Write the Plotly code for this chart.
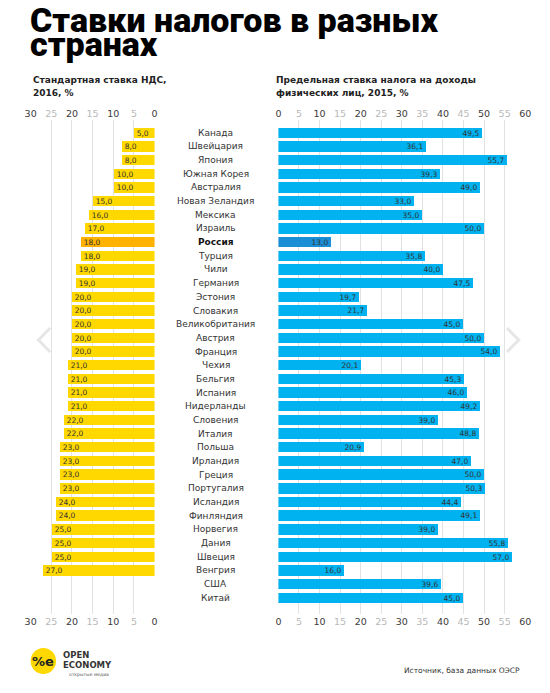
import plotly.graph_objects as go

countries = ["Канада", "Швейцария", "Япония", "Южная Корея", "Австралия", "Новая Зеландия",
             "Мексика", "Израиль", "Россия", "Турция", "Чили", "Германия", "Эстония",
             "Словакия", "Великобритания", "Австрия", "Франция", "Чехия", "Бельгия",
             "Испания", "Нидерланды", "Словения", "Италия", "Польша", "Ирландия", "Греция",
             "Португалия", "Исландия", "Финляндия", "Норвегия", "Дания", "Швеция", "Венгрия",
             "США", "Китай"]
vat = [5.0, 8.0, 8.0, 10.0, 10.0, 15.0, 16.0, 17.0, 18.0, 18.0, 19.0, 19.0, 20.0,
       20.0, 20.0, 20.0, 20.0, 21.0, 21.0, 21.0, 21.0, 22.0, 22.0, 23.0, 23.0, 23.0,
       23.0, 24.0, 24.0, 25.0, 25.0, 25.0, 27.0, None, None]
pit = [49.5, 36.1, 55.7, 39.3, 49.0, 33.0, 35.0, 50.0, 13.0, 35.8, 40.0, 47.5, 19.7,
       21.7, 45.0, 50.0, 54.0, 20.1, 45.3, 46.0, 49.2, 39.0, 48.8, 20.9, 47.0, 50.0,
       50.3, 44.4, 49.1, 39.0, 55.8, 57.0, 16.0, 39.6, 45.0]
highlight = "Россия"
vat_ticks = [0, 5, 10, 15, 20, 25, 30]
pit_ticks = [0, 5, 10, 15, 20, 25, 30, 35, 40, 45, 50, 55, 60]

title_lines = ["Ставки налогов в разных", "странах"]
left_sub = ["Стандартная ставка НДС,", "2016, %"]
right_sub = ["Предельная ставка налога на доходы", "физических лиц, 2015, %"]
source = "Источник, база данных ОЭСР"

W, H = 550, 693
OFF = 8  # page body margin in the browser


def px(x):
    return (x - OFF) / W


def py(y):
    return 1 - (y - OFF) / H


def fmt(v):
    return "" if v is None else f"{v:.1f}".replace(".", ",")


def tick_text(vals):
    out = []
    for v in vals:
        c = "#3a3a3a" if v % 10 == 0 else "#b8b8b8"
        out.append(f'<span style="color:{c}">{v}</span>')
    return out


idx = list(range(len(countries)))
vat_colors = ["#FFB300" if c == highlight else "#FFD800" for c in countries]
pit_colors = ["#1C8ED6" if c == highlight else "#00B2EF" for c in countries]

fig = go.Figure()
fig.add_trace(go.Bar(
    x=vat, y=idx, orientation="h", xaxis="x", yaxis="y",
    marker=dict(color=vat_colors, line=dict(width=0)), width=0.76,
    text=[fmt(v) for v in vat], textposition="inside", insidetextanchor="end",
    textfont=dict(size=7.5, color="#333333", family="DejaVu Sans"),
    constraintext="none", hoverinfo="skip", showlegend=False))
fig.add_trace(go.Bar(
    x=pit, y=idx, orientation="h", xaxis="x2", yaxis="y",
    marker=dict(color=pit_colors, line=dict(width=0)), width=0.76,
    text=[fmt(v) for v in pit], textposition="inside", insidetextanchor="end",
    textfont=dict(size=7.5, color="#333333", family="DejaVu Sans"),
    constraintext="none", hoverinfo="skip", showlegend=False))
# invisible helpers so the top tick axes are drawn
fig.add_trace(go.Scatter(x=[0], y=[0], xaxis="x3", yaxis="y", mode="markers",
                         marker=dict(opacity=0), hoverinfo="skip", showlegend=False))
fig.add_trace(go.Scatter(x=[0], y=[0], xaxis="x4", yaxis="y", mode="markers",
                         marker=dict(opacity=0), hoverinfo="skip", showlegend=False))

left_dom = [px(25), px(151.7)]
right_dom = [px(278.3), px(530.6)]
tickfont = dict(family="DejaVu Sans", size=9.5, color="#3a3a3a")
common = dict(showgrid=True, gridcolor="#e2e2e2", gridwidth=1, zeroline=False,
              showline=False, ticks="", tickfont=tickfont, fixedrange=True)

fig.update_layout(
    width=W, height=H, margin=dict(l=0, r=0, t=0, b=0),
    paper_bgcolor="white", plot_bgcolor="white", bargap=0,
    xaxis=dict(domain=left_dom, range=[30, 0], tickvals=vat_ticks,
               ticktext=tick_text(vat_ticks), side="bottom", anchor="y", **common),
    xaxis3=dict(domain=left_dom, range=[30, 0], tickvals=vat_ticks,
                ticktext=tick_text(vat_ticks), side="top", anchor="y",
                overlaying="x", **{**common, "showgrid": False}),
    xaxis2=dict(domain=right_dom, range=[0, 60], tickvals=pit_ticks,
                ticktext=tick_text(pit_ticks), side="bottom", anchor="y", **common),
    xaxis4=dict(domain=right_dom, range=[0, 60], tickvals=pit_ticks,
                ticktext=tick_text(pit_ticks), side="top", anchor="y",
                overlaying="x2", **{**common, "showgrid": False}),
    yaxis=dict(domain=[py(614), py(120)], range=[35.19, -0.93], visible=False,
               fixedrange=True),
)

ann = []
for i, c in enumerate(countries):
    bold = c == highlight
    ann.append(dict(x=px(214), y=i, xref="paper", yref="y", showarrow=False,
                    xanchor="center", yanchor="middle",
                    text=f"<b>{c}</b>" if bold else c,
                    font=dict(family="DejaVu Sans", size=9,
                              color="#111111" if bold else "#333333")))

ann.append(dict(x=px(22), y=py(20), xref="paper", yref="paper", showarrow=False,
                xanchor="left", yanchor="middle", text=title_lines[0],
                font=dict(family="Roboto", size=34, weight=900, color="#000000")))
ann.append(dict(x=px(22), y=py(44), xref="paper", yref="paper", showarrow=False,
                xanchor="left", yanchor="middle", text=title_lines[1],
                font=dict(family="Roboto", size=34, weight=900, color="#000000")))

for k, (l, r) in enumerate(zip(left_sub, right_sub)):
    yy = py(80 + 13 * k)
    ann.append(dict(x=px(25), y=yy, xref="paper", yref="paper", showarrow=False,
                    xanchor="left", yanchor="middle", text=f"<b>{l}</b>",
                    font=dict(family="DejaVu Sans", size=9, color="#222222")))
    ann.append(dict(x=px(274), y=yy, xref="paper", yref="paper", showarrow=False,
                    xanchor="left", yanchor="middle", text=f"<b>{r}</b>",
                    font=dict(family="DejaVu Sans", size=9, color="#222222")))

# logo
ann.append(dict(x=px(38), y=py(661), xref="paper", yref="paper", showarrow=False,
                xanchor="center", yanchor="middle", text="<b>%e</b>",
                font=dict(family="DejaVu Sans", size=13, color="#222222")))
ann.append(dict(x=px(56), y=py(655), xref="paper", yref="paper", showarrow=False,
                xanchor="left", yanchor="middle", text="<b>OPEN</b>",
                font=dict(family="DejaVu Sans", size=8.5, color="#333333")))
ann.append(dict(x=px(56), y=py(665), xref="paper", yref="paper", showarrow=False,
                xanchor="left", yanchor="middle", text="<b>ECONOMY</b>",
                font=dict(family="DejaVu Sans", size=8.5, color="#333333")))
ann.append(dict(x=px(62), y=py(674), xref="paper", yref="paper", showarrow=False,
                xanchor="left", yanchor="middle", text="открытые медиа",
                font=dict(family="DejaVu Sans", size=4.5, color="#555555")))
ann.append(dict(x=px(527), y=py(670), xref="paper", yref="paper", showarrow=False,
                xanchor="right", yanchor="middle", text=source,
                font=dict(family="DejaVu Sans", size=7.5, color="#333333")))

shapes = [
    dict(type="circle", xref="paper", yref="paper", x0=px(25), x1=px(51),
         y0=py(674), y1=py(648), fillcolor="#FFD800", line=dict(width=0), layer="below"),
    dict(type="path", xref="paper", yref="paper",
         path=f"M {px(45)},{py(328)} L {px(33)},{py(340)} L {px(45)},{py(352)}",
         line=dict(color="#e6e6e6", width=3)),
    dict(type="path", xref="paper", yref="paper",
         path=f"M {px(512)},{py(328)} L {px(524)},{py(340)} L {px(512)},{py(352)}",
         line=dict(color="#e6e6e6", width=3)),
]
fig.update_layout(annotations=ann, shapes=shapes)

fig.write_html("out.html")
